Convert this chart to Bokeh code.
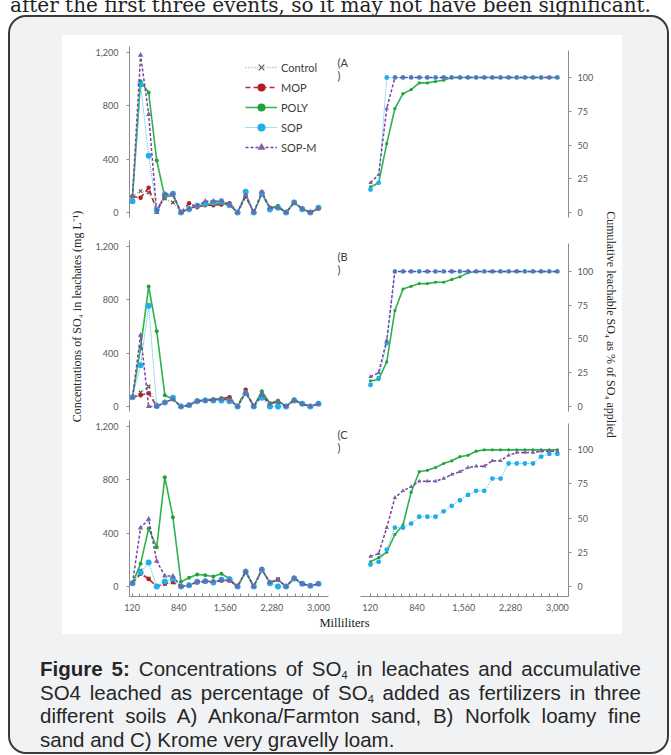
import math
from bokeh.plotting import figure
from bokeh.models import Range1d, FixedTicker, Legend, LegendItem, Label, Div, Spacer
from bokeh.layouts import column, row
from bokeh.embed import file_html
from bokeh.resources import INLINE

# ---------------- data ----------------
ml = [125, 250, 375, 500, 625, 750, 875, 1000, 1125, 1250, 1375, 1500,
      1625, 1750, 1875, 2000, 2125, 2250, 2375, 2500, 2625, 2750, 2875, 3000]
series_names = ["Control", "MOP", "POLY", "SOP", "SOP-M"]
pct_names = ["POLY", "SOP", "SOP-M"]

# concentrations of SO4 in leachates (mg L-1)
la_control = [120, 160, 150, 10, 105, 75, 0, 30, 50, 60, 80, 90, 60, 0, 130, 0, 150, 35, 40, 0, 75, 28, 0, 32]
la_mop = [120, 110, 185, 20, 120, 135, 0, 70, 40, 55, 55, 60, 70, 0, 120, 0, 140, 30, 40, 0, 75, 28, 0, 30]
la_poly = [120, 985, 900, 390, 115, 130, 0, 30, 50, 60, 65, 70, 55, 0, 135, 0, 140, 35, 50, 0, 75, 28, 0, 32]
la_sop = [85, 960, 425, 20, 135, 140, 0, 25, 50, 65, 75, 80, 55, 0, 155, 0, 145, 22, 35, 0, 75, 25, 0, 35]
la_sopm = [120, 1180, 735, 0, 135, 140, 0, 28, 50, 85, 85, 85, 60, 0, 130, 0, 155, 35, 38, 0, 75, 28, 0, 32]

lb_control = [70, 105, 150, 0, 30, 55, 0, 10, 40, 45, 50, 55, 55, 0, 100, 0, 90, 20, 35, 0, 45, 20, 0, 20]
lb_mop = [70, 85, 100, 0, 30, 55, 0, 10, 45, 45, 50, 60, 70, 0, 125, 0, 80, 20, 35, 0, 45, 20, 0, 20]
lb_poly = [70, 440, 900, 565, 85, 55, 0, 10, 40, 50, 55, 60, 55, 0, 110, 0, 115, 25, 45, 0, 55, 20, 0, 20]
lb_sop = [70, 310, 755, 5, 30, 65, 0, 10, 40, 45, 45, 45, 40, 0, 100, 0, 65, 0, 0, 0, 45, 20, 0, 20]
lb_sopm = [70, 535, 0, 0, 30, 55, 0, 10, 40, 45, 50, 55, 50, 0, 105, 0, 95, 20, 35, 0, 45, 20, 0, 20]

lc_control = [25, 120, 60, 0, 20, 30, 0, 10, 35, 40, 35, 45, 45, 0, 115, 0, 130, 30, 55, 0, 65, 20, 5, 20]
lc_mop = [25, 95, 57, 0, 20, 33, 0, 10, 30, 35, 35, 45, 45, 0, 110, 0, 125, 30, 50, 0, 60, 20, 5, 20]
lc_poly = [25, 170, 435, 295, 820, 520, 35, 65, 90, 85, 75, 95, 60, 0, 110, 0, 125, 30, 50, 0, 60, 20, 5, 20]
lc_sop = [25, 105, 180, 0, 37, 57, 0, 10, 35, 40, 30, 50, 55, 0, 110, 0, 125, 25, 0, 0, 60, 20, 5, 20]
lc_sopm = [25, 440, 505, 190, 80, 77, 0, 10, 35, 40, 40, 45, 45, 0, 115, 0, 130, 30, 50, 0, 65, 20, 5, 20]

# cumulative leachable SO4 as % of SO4 applied
ra_poly = [19, 22, 51, 77, 88, 91, 96, 96, 97, 98, 100, 100, 100, 100, 100, 100, 100, 100, 100, 100, 100, 100, 100, 100]
ra_sop = [17, 22, 100, 100, 100, 100, 100, 100, 100, 100, 100, 100, 100, 100, 100, 100, 100, 100, 100, 100, 100, 100, 100, 100]
ra_sopm = [22, 28, 77, 100, 100, 100, 100, 100, 100, 100, 100, 100, 100, 100, 100, 100, 100, 100, 100, 100, 100, 100, 100, 100]

rb_poly = [19, 20, 33, 71, 87, 89, 91, 91, 92, 92, 94, 96, 99, 100, 100, 100, 100, 100, 100, 100, 100, 100, 100, 100]
rb_sop = [16, 21, 47, 100, 100, 100, 100, 100, 100, 100, 100, 100, 100, 100, 100, 100, 100, 100, 100, 100, 100, 100, 100, 100]
rb_sopm = [22, 25, 49, 100, 100, 100, 100, 100, 100, 100, 100, 100, 100, 100, 100, 100, 100, 100, 100, 100, 100, 100, 100, 100]

rc_poly = [18, 21, 25, 38, 45, 69, 84, 85, 87, 90, 92, 95, 96, 99, 100, 100, 100, 100, 100, 100, 100, 100, 100, 100]
rc_sop = [16, 18, 27, 43, 43, 46, 51, 51, 51, 55, 59, 63, 67, 70, 70, 79, 79, 90, 90, 90, 90, 95, 97, 97]
rc_sopm = [22, 24, 43, 65, 70, 73, 77, 77, 77, 79, 82, 84, 87, 88, 88, 92, 92, 96, 98, 98, 98, 99, 99, 99]

conc_ticks = [0, 400, 800, 1200]
conc_tick_labels = ["0", "400", "800", "1,200"]
pct_ticks = [0, 25, 50, 75, 100]
pct_tick_labels = ["0", "25", "50", "75", "100"]
x_ticks = [120, 840, 1560, 2280, 3000]
x_tick_labels = ["120", "840", "1,560", "2,280", "3,000"]
x_minor_ticks = [120, 240, 360, 480, 600, 720, 840, 960, 1080, 1200, 1320, 1440, 1560,
                 1680, 1800, 1920, 2040, 2160, 2280, 2400, 2520, 2640, 2760, 2880, 3000]
panel_labels = ["(A\n)", "(B\n)", "(C\n)"]
left_title = "Concentrations of SO\u2084 in leachates (mg L\u207b\u00b9)"
right_title = "Cumulative leachable SO\u2084 as % of SO\u2084 applied"
x_title = "Milliliters"

conc = [
    {"Control": la_control, "MOP": la_mop, "POLY": la_poly, "SOP": la_sop, "SOP-M": la_sopm},
    {"Control": lb_control, "MOP": lb_mop, "POLY": lb_poly, "SOP": lb_sop, "SOP-M": lb_sopm},
    {"Control": lc_control, "MOP": lc_mop, "POLY": lc_poly, "SOP": lc_sop, "SOP-M": lc_sopm},
]
pct = [
    {"POLY": ra_poly, "SOP": ra_sop, "SOP-M": ra_sopm},
    {"POLY": rb_poly, "SOP": rb_sop, "SOP-M": rb_sopm},
    {"POLY": rc_poly, "SOP": rc_sop, "SOP-M": rc_sopm},
]

# ---------------- styles ----------------
STYLE = {
    "Control": dict(color="#a6a6a6", dash="1 2", width=1.3, marker="x", size=5, mcolor="#595959", lw=1.2),
    "MOP": dict(color="#c0272d", dash="5 3", width=1.6, marker="circle", size=4.5, mcolor="#b01e23", lw=0),
    "POLY": dict(color="#2eb24c", dash="solid", width=1.6, marker="circle", size=4, mcolor="#22a040", lw=0),
    "SOP": dict(color="#3cc0ec", dash="1 1", width=1.0, marker="circle", size=6, mcolor="#1eaee8", lw=0),
    "SOP-M": dict(color="#7a3fa5", dash="3 2", width=1.5, marker="triangle", size=5.5, mcolor="#7a64a8", lw=0),
}
AX = "#8c8c8c"
TICK_FONT = "Lato"
TICK_COLOR = "#595959"
SERIF = "Liberation Serif"

L_X = (78.85, 3155.7)
R_X = (-413.5, 3171.1)
R_AXIS_BOUNDS = (-28.85, 3171.1)


def base_fig(w, h, xr, yr, top, bottom, left, right, yloc, show_x):
    p = figure(width=w, height=h, x_range=Range1d(*xr), y_range=Range1d(*yr),
               output_backend="svg", toolbar_location=None, tools="",
               min_border_top=top, min_border_bottom=bottom,
               min_border_left=left, min_border_right=right,
               x_axis_location="below" if show_x else None, y_axis_location=yloc)
    p.outline_line_color = None
    p.grid.visible = False
    p.background_fill_color = "white"
    p.border_fill_color = "white"
    return p


def style_axis(ax, ticks, labels, minor, tin, tout, standoff):
    ax.ticker = FixedTicker(ticks=ticks, minor_ticks=minor)
    ax.major_label_overrides = {t: l for t, l in zip(ticks, labels)}
    ax.axis_line_color = AX
    ax.major_tick_line_color = AX
    ax.minor_tick_line_color = AX if minor else None
    ax.major_tick_in = tin
    ax.major_tick_out = tout
    ax.minor_tick_in = tin
    ax.minor_tick_out = tout
    ax.major_label_text_font = TICK_FONT
    ax.major_label_text_font_size = "9px"
    ax.major_label_text_color = TICK_COLOR
    ax.major_label_standoff = standoff


def draw(p, data, names, scale=1.0):
    out = {}
    for n in names:
        st = STYLE[n]
        r1 = p.line(ml, data[n], line_color=st["color"], line_dash=st["dash"], line_width=st["width"])
        r2 = p.scatter(ml, data[n], marker=st["marker"], size=st["size"] * scale,
                       fill_color=st["mcolor"], line_color=st["mcolor"], line_width=st["lw"])
        out[n] = (r1, r2)
    return out


# geometry per row: (height, left top, left bottom, right top, right bottom, show_x)
rows_geo = [
    (190, 11, 8, 15, 8, False),
    (190, 15, 4, 18, 4, False),
    (199, 5, 18, 8, 18, True),
]
left_y = [(-37.5, 1245), (-37.5, 1245), (-75, 1245)]
right_y = [(-3.7, 120), (-3.7, 120.7), (-7.4, 119.3)]

left_figs, right_figs = [], []
for i, (h, lt, lb, rt, rb, sx) in enumerate(rows_geo):
    pl = base_fig(243, h, L_X, left_y[i], lt, lb, 36, 7, "left", sx)
    style_axis(pl.yaxis[0], conc_ticks, conc_tick_labels, [], 0, 3, 8)
    rs = draw(pl, conc[i], series_names)
    if sx:
        style_axis(pl.xaxis[0], x_ticks, x_tick_labels, x_minor_ticks, 3, 0, 7)
    if i == 0:
        items = [LegendItem(label=n, renderers=list(rs[n])) for n in series_names]
        leg = Legend(items=items, location=(116, 60), glyph_width=32, glyph_height=20,
                     label_height=20, spacing=0, padding=0, margin=0, label_standoff=4,
                     label_text_font=TICK_FONT, label_text_font_size="11px",
                     label_text_color="#404040", border_line_color=None,
                     background_fill_alpha=0)
        pl.add_layout(leg)
    left_figs.append(pl)

    pr = base_fig(265, h, R_X, right_y[i], rt, rb, 0, 32, "right", sx)
    style_axis(pr.yaxis[0], pct_ticks, pct_tick_labels, [], 0, 3, 6)
    draw(pr, pct[i], pct_names, scale=0.8)
    if sx:
        style_axis(pr.xaxis[0], x_ticks, x_tick_labels, x_minor_ticks, 3, 0, 7)
        pr.xaxis[0].bounds = R_AXIS_BOUNDS
    pr.add_layout(Label(x=-383, y=116, text=panel_labels[i], text_font=TICK_FONT,
                        text_font_size="11px", text_color="#404040", text_line_height=1.0,
                        text_align="left", text_baseline="top"))
    right_figs.append(pr)


def text_fig(w, h):
    p = figure(width=w, height=h, x_range=Range1d(0, w), y_range=Range1d(0, h),
               output_backend="svg", toolbar_location=None, tools="",
               min_border=0, x_axis_location=None, y_axis_location=None)
    p.outline_line_color = None
    p.grid.visible = False
    p.background_fill_color = "white"
    p.border_fill_color = "white"
    return p


lt_fig = text_fig(30, 579)
lt_fig.add_layout(Label(x=14, y=298, text=left_title, angle=math.pi / 2, text_align="center",
                        text_baseline="middle", text_font=SERIF, text_font_size="12px",
                        text_color="#262626"))
rt_fig = text_fig(22, 579)
rt_fig.add_layout(Label(x=10, y=290, text=right_title, angle=-math.pi / 2, text_align="center",
                        text_baseline="middle", text_font=SERIF, text_font_size="12px",
                        text_color="#262626"))
strip = text_fig(560, 20)
strip.add_layout(Label(x=282, y=12, text=x_title, text_align="center", text_baseline="middle",
                       text_font=SERIF, text_font_size="12.5px", text_color="#1a1a1a"))

charts = row(lt_fig, column(*left_figs, spacing=0), column(*right_figs, spacing=0), rt_fig, spacing=0,
             styles={"background-color": "white"})
white = column(charts, strip, spacing=0, styles={"background-color": "white"})

sub = '<sub style="font-size:11px; line-height:0; vertical-align:-3px;">4</sub>'
jl = 'style="width:601px; text-align:justify; text-align-last:justify;"'
cap_html = (
    '<div style="padding:23px 0 0 30px; font-family:\'Liberation Sans\',Arial,sans-serif; '
    'font-size:20.5px; line-height:23.5px; color:#262626;">'
    f'<div {jl}><b>Figure 5:</b> Concentrations of SO{sub} in leachates and accumulative</div>'
    f'<div {jl}>SO4 leached as percentage of SO{sub} added as fertilizers in three</div>'
    f'<div {jl}>different soils A) Ankona/Farmton sand, B) Norfolk loamy fine</div>'
    '<div style="width:601px;">sand and C) Krome very gravelly loam.</div></div>'
)
caption = Div(text=cap_html, width=657, height=118, margin=0, styles={"overflow": "hidden"})

top_html = ('<div style="margin-top:-12px; font-family:\'DejaVu Serif\',serif; font-size:20px; '
            'line-height:22px; color:#222; white-space:nowrap; padding-left:10px;">'
            'after the first three events, so it may not have been significant.</div>')
top_div = Div(text=top_html, width=669, height=15, margin=0, styles={"overflow": "hidden"})

box = column(
    Spacer(width=657, height=18),
    row(Spacer(width=52, height=599), white, Spacer(width=45, height=599), spacing=0),
    caption,
    spacing=0,
    styles={"border": "2px solid #3a3a3a", "border-radius": "18px", "background-color": "#f1f2f4"},
)
root = column(top_div, row(Spacer(width=8, height=10), box, spacing=0), spacing=0)

open("out.html", "w").write(file_html(root, INLINE))
